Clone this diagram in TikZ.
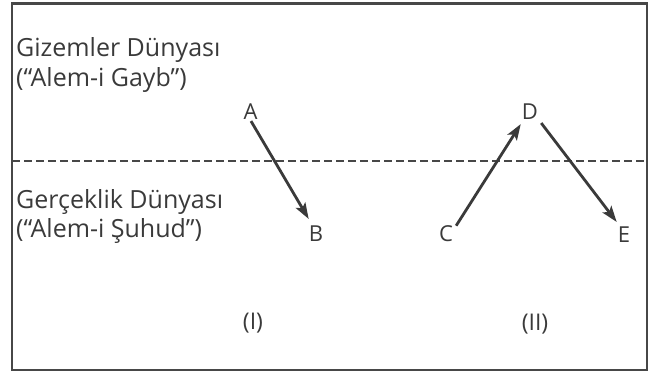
\documentclass[tikz,border=0pt]{standalone}
\usepackage{fontspec}
\setmainfont{Open Sans}
\usetikzlibrary{arrows.meta}
\definecolor{ink}{HTML}{3A3A3A}
\definecolor{rule}{HTML}{474747}
\tikzset{
  world/.style={anchor=base west, inner sep=0pt, text=ink, font=\fontsize{25}{28}\selectfont},
  pt/.style={inner sep=0pt, minimum width=12pt, minimum height=14pt, text=ink, font=\fontsize{22}{24}\selectfont},
  part/.style={inner sep=0pt, text=ink, font=\fontsize{23}{25}\selectfont},
  arr/.style={draw=ink, line width=2.8pt, -{Stealth[length=16pt,width=11pt,inset=3.5pt]}},
  frame/.style={draw=rule, line width=2.4pt},
  divider/.style={draw=rule, line width=2.8pt, dash pattern=on 8pt off 4pt}
}
\begin{document}
\begin{tikzpicture}[x=1pt,y=-1pt]
\useasboundingbox (0,0) rectangle (653,374);
\draw[frame] (12,3.5) rectangle (647,370);
\coordinate (dl) at (12,161);
\coordinate (dr) at (647,161);
\draw[divider] (dl) -- (dr);

\node[world] (g1) at (16,56.7) {Gizemler Dünyası};
\node[world] (g2) at (16,86.7) {(“Alem-i Gayb”)};
\node[world] (r1) at (16,208) {Gerçeklik Dünyası};
\node[world] (r2) at (16,237) {(“Alem-i Şuhud”)};

\node[pt] (A) at (250.5,111.5) {A};
\node[pt] (B) at (316,234) {B};
\node[pt] (C) at (446,234) {C};
\node[pt] (D) at (530,111.5) {D};
\node[pt] (E) at (624,235) {E};

\draw[arr] ([xshift=0.5pt,yshift=-1.5pt]A.south) -- ([yshift=7pt]B.north west);
\draw[arr] ([xshift=3pt]C.north east) -- ([xshift=-1pt,yshift=-4.5pt]D.south west);
\draw[arr] ([xshift=3pt,yshift=-3.5pt]D.south east) -- ([xshift=-1pt,yshift=5pt]E.north west);

\node[part] (p1) at (253,323) {(I)};
\node[part] (p2) at (535,324) {(II)};
\end{tikzpicture}
\end{document}
